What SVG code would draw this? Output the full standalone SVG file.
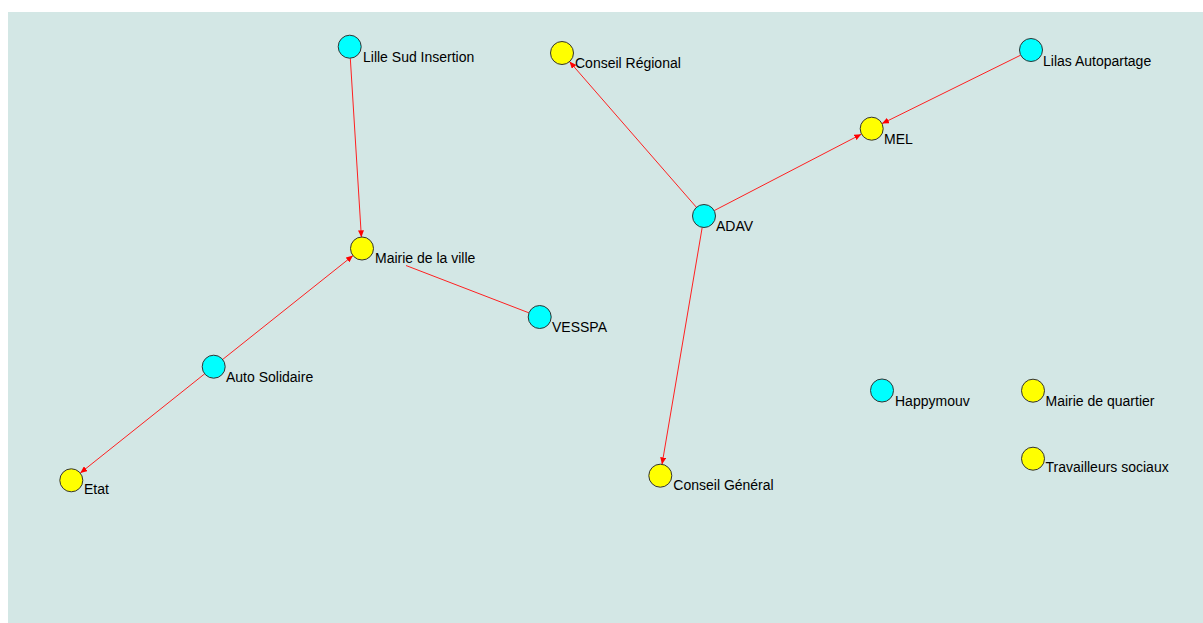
<svg xmlns="http://www.w3.org/2000/svg" width="1203" height="623" viewBox="0 0 1203 623">
<style>
.bg{fill:#d3e7e5}
.n circle{stroke:#333;stroke-width:1}
.a circle{fill:#00ffff}
.p circle{fill:#ffff00}
.n text{font-family:"Liberation Sans",Arial,sans-serif;font-size:14px;fill:#000}
.e line{stroke:#ff2020;stroke-width:1}
.arr{marker-end:url(#ah)}
</style>
<defs>
<marker id="ah" markerUnits="userSpaceOnUse" markerWidth="8" markerHeight="6" refX="7" refY="3" orient="auto">
<path d="M0,0 L7,3 L0,6 Z" fill="#ff0000"/>
</marker>
</defs>
<rect x="0" y="0" width="1203" height="623" fill="#ffffff"/>
<rect class="bg" x="8" y="12" width="1195" height="611"/>
<g id="edges" class="e">
<line class="arr" x1="350.3" y1="58.2" x2="361.4" y2="237.3"/>
<line class="arr" x1="222.6" y1="359.5" x2="353" y2="255.6"/>
<line class="arr" x1="204.7" y1="373.8" x2="80.3" y2="473"/>
<line class="arr" x1="696.5" y1="207.4" x2="569.5" y2="61.6"/>
<line class="arr" x1="714.2" y1="210.6" x2="861.3" y2="134.2"/>
<line class="arr" x1="1020.6" y1="55.2" x2="882" y2="123.6"/>
<line class="arr" x1="702.2" y1="227.4" x2="662" y2="464.4"/>
<line x1="406" y1="265.5" x2="528.8" y2="312.8"/>
</g>
<g id="lille-sud-insertion" class="n a"><circle cx="349.7" cy="46.7" r="11.5"/><text x="363" y="62">Lille Sud Insertion</text></g>
<g id="conseil-regional" class="n p"><circle cx="562" cy="53" r="11.5"/><text x="575" y="67.5">Conseil Régional</text></g>
<g id="lilas-autopartage" class="n a"><circle cx="1031" cy="50" r="11.5"/><text x="1043" y="66">Lilas Autopartage</text></g>
<g id="mel" class="n p"><circle cx="871.7" cy="128.7" r="11.5"/><text x="884" y="144">MEL</text></g>
<g id="adav" class="n a"><circle cx="704" cy="216" r="11.5"/><text x="716" y="230.5">ADAV</text></g>
<g id="mairie-de-la-ville" class="n p"><circle cx="362" cy="248.5" r="11.5"/><text x="375" y="262.5">Mairie de la ville</text></g>
<g id="vesspa" class="n a"><circle cx="539.7" cy="317" r="11.5"/><text x="552" y="331.5">VESSPA</text></g>
<g id="auto-solidaire" class="n a"><circle cx="213.7" cy="366.7" r="11.5"/><text x="226" y="381.5">Auto Solidaire</text></g>
<g id="happymouv" class="n a"><circle cx="882" cy="390.5" r="11.5"/><text x="895" y="405.5">Happymouv</text></g>
<g id="mairie-de-quartier" class="n p"><circle cx="1033" cy="390.7" r="11.5"/><text x="1045.5" y="406">Mairie de quartier</text></g>
<g id="travailleurs-sociaux" class="n p"><circle cx="1033" cy="458.7" r="11.5"/><text x="1045.5" y="471.7">Travailleurs sociaux</text></g>
<g id="etat" class="n p"><circle cx="71.3" cy="480.3" r="11.5"/><text x="84" y="494">Etat</text></g>
<g id="conseil-general" class="n p"><circle cx="660.3" cy="475.7" r="11.5"/><text x="673.3" y="490">Conseil Général</text></g>
</svg>
